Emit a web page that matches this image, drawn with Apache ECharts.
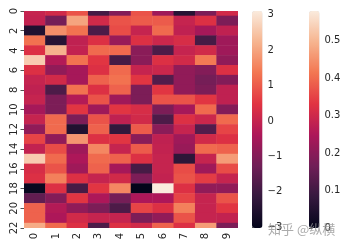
<!DOCTYPE html>
<html><head><meta charset="utf-8">
<script src="https://cdn.jsdelivr.net/npm/echarts@6/dist/echarts.min.js"></script>
<style>html,body{margin:0;padding:0;background:#fff}#c{width:349px;height:249px}</style>
</head><body><div id="c"></div>
<script>
var columns = ['0','1','2','3','4','5','6','7','8','9'];
var rowTicks = [0,2,4,6,8,10,12,14,16,18,20,22];
var cb1Ticks = [-3,-2,-1,0,1,2,3];
var cb2Ticks = [0,0.1,0.2,0.3,0.4,0.5];
var cb1Range = [-3.03, 3.11];
var cb2Range = [0, 0.579];

var r0  = [ 0.0,  0.2,  0.9, -1.9, -1.0,  0.9, -0.6, -2.4, -1.1,  0.2];
var r1  = [-0.05,-1.2,  2.0,  0.2,  0.9,  1.0,  1.0,  0.0,  0.4, -1.1];
var r2  = [-2.5,  1.7,  1.3, -1.8,  0.8,  0.0,  1.2, -0.1, -0.5, -0.1];
var r3  = [ 1.3, -2.4, -0.1,  0.4, -0.7,  0.4,  0.1,  0.3, -1.9, -0.6];
var r4  = [ 0.4,  2.2, -0.05, 1.2,  1.2, -0.9, -1.8,  0.0,  0.2, -0.6];
var r5  = [ 2.6, -0.3,  1.3,  0.5, -1.9, -0.9,  0.4,  0.2,  1.4, -0.8];
var r6  = [ 0.4, -0.8, -0.5,  0.4,  1.2,  0.0,  0.1, -0.8, -1.0,  0.4];
var r7  = [ 0.0,  0.2, -0.5,  1.1,  1.3,  0.5, -1.7, -0.8, -1.2, -1.0];
var r8  = [-0.1, -1.8,  1.3,  0.4,  1.1, -1.1,  0.5, -0.8, -1.1, -0.1];
var r9  = [ 0.0, -1.1, -0.3,  0.9, -0.6, -1.1,  0.9,  0.9,  0.5, -0.1];
var r10 = [-0.5, -1.1,  0.5, -0.6,  0.5,  0.3, -1.1, -0.5,  1.2, -1.0];
var r11 = [ 0.0,  1.2, -1.1,  0.9, -0.1,  0.2, -1.8,  0.4,  0.1,  1.2];
var r12 = [-0.8,  1.2, -2.5,  1.1, -2.2,  1.0, -0.9,  0.0, -1.7,  0.7];
var r13 = [ 0.7, -0.8,  1.8,  0.4,  0.5, -0.9, -0.1, -0.6,  0.2,  0.4];
var r14 = [-0.05, 0.8, -0.6,  1.6,  0.0,  1.0, -0.05,-0.7,  1.2,  1.1];
var r15 = [ 2.6,  1.2, -0.4,  1.2,  1.1,  0.4,  0.0, -2.3,  0.0,  1.9];
var r16 = [ 0.3,  0.9, -0.6,  1.1, -0.5, -1.9,  0.0,  0.8, -0.6,  0.8];
var r17 = [ 0.4,  1.5,  0.4,  0.0,  0.2, -1.1, -0.05, 0.9,  0.6,  0.0];
var r18 = [-2.9,  0.4, -1.9,  0.5,  1.6, -3.03, 3.11, 0.4, -0.8, -0.8];
var r19 = [-1.5, -1.0,  0.5, -0.4, -1.2, -0.4, -0.4,  0.7,  0.0,  0.9];
var r20 = [ 1.1, -0.3, -0.8, -1.1, -1.8,  0.7,  0.4,  1.5,  0.0,  0.5];
var r21 = [ 1.1, -0.4,  0.2,  0.0,  0.0, -1.1, -0.8,  0.9,  0.0, -0.05];
var r22 = [ 2.1,  1.2,  0.4, -1.8,  0.4,  0.2,  1.1,  0.4,  1.9, -1.1];
var rows = [r0,r1,r2,r3,r4,r5,r6,r7,r8,r9,r10,r11,r12,r13,r14,r15,r16,r17,r18,r19,r20,r21,r22];

var rocket = ['#03051a','#35193e','#701f57','#ad1759','#e13342','#f37651','#f6b48f','#faebdd'];

var cells = [];
rows.forEach(function(r, i){ r.forEach(function(v, j){ cells.push([j, i, v]); }); });

var font = 'DejaVu Sans';
var txt = '#262626';
function minus(v){ return String(v).replace('-', '\u2212'); }

var chart = echarts.init(document.getElementById('c'), null, {renderer:'canvas'});
chart.setOption({
  animation: false,
  backgroundColor: '#fff',
  grid: [
    {left: 24, top: 11, width: 214, height: 217},
    {left: 252, top: 11, width: 10.5, height: 217},
    {left: 309, top: 11, width: 10.5, height: 217}
  ],
  xAxis: [
    {gridIndex: 0, type: 'category', data: columns, position: 'bottom',
     axisLine: {show: false}, splitLine: {show: false},
     axisTick: {alignWithLabel: true, length: 3.5, lineStyle: {color: txt, width: 0.8}},
     axisLabel: {rotate: 90, fontSize: 10, fontFamily: font, color: txt, margin: 5}},
    {gridIndex: 1, type: 'value', show: false},
    {gridIndex: 2, type: 'value', show: false}
  ],
  yAxis: [
    {gridIndex: 0, type: 'value', min: 0, max: 22, interval: 2, inverse: true,
     axisLine: {show: false}, splitLine: {show: false},
     axisTick: {show: true, length: 3.5, lineStyle: {color: txt, width: 0.8}},
     axisLabel: {rotate: 90, fontSize: 10, fontFamily: font, color: txt, margin: 5}},
    {gridIndex: 1, type: 'value', min: cb1Range[0], max: cb1Range[1], position: 'right',
     axisLine: {show: false}, splitLine: {show: false},
     axisTick: {show: true, length: 3.5, customValues: cb1Ticks, lineStyle: {color: txt, width: 0.8}},
     axisLabel: {customValues: cb1Ticks, fontSize: 10, fontFamily: font, color: txt, margin: 5, formatter: minus}},
    {gridIndex: 2, type: 'value', min: cb2Range[0], max: cb2Range[1], position: 'right',
     axisLine: {show: false}, splitLine: {show: false},
     axisTick: {show: true, length: 3.5, customValues: cb2Ticks, lineStyle: {color: txt, width: 0.8}},
     axisLabel: {customValues: cb2Ticks, fontSize: 10, fontFamily: font, color: txt, margin: 5}}
  ],
  visualMap: [
    {type: 'continuous', seriesIndex: 0, dimension: 2, min: cb1Range[0], max: cb1Range[1],
     inRange: {color: rocket}, left: 252, top: 11, itemWidth: 10.5, itemHeight: 217,
     padding: 0, calculable: false, hoverLink: false, realtime: false},
    {type: 'continuous', seriesIndex: [], min: cb2Range[0], max: cb2Range[1],
     inRange: {color: rocket}, left: 309, top: 11, itemWidth: 10.5, itemHeight: 217,
     padding: 0, calculable: false, hoverLink: false}
  ],
  series: [{
    type: 'custom', xAxisIndex: 0, yAxisIndex: 0, clip: true,
    encode: {x: 0, y: 1},
    data: cells,
    renderItem: function(params, api){
      var x = api.value(0), y = api.value(1);
      var p0 = api.coord([x, y - 0.5]);
      var p1 = api.coord([x, y + 0.5]);
      var bw = api.size([1, 0])[0];
      return {type: 'rect',
        shape: {x: p0[0] - bw/2 - 0.25, y: Math.min(p0[1], p1[1]) - 0.25, width: bw + 0.5, height: Math.abs(p1[1] - p0[1]) + 0.5},
        style: {fill: api.visual('color')}};
    }
  }],
  graphic: [{type: 'text', left: 268, top: 223, z: 100,
    style: {text: '知乎 @纵横', font: '13px "Noto Sans CJK SC"', fill: 'rgba(150,150,150,0.8)'}}]
});
</script></body></html>
